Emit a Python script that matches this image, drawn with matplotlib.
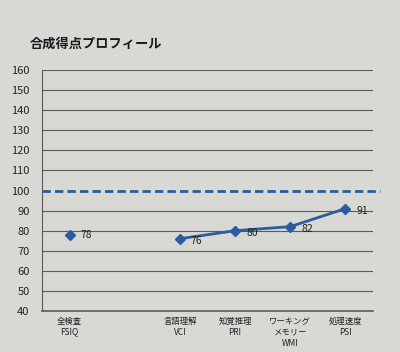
import matplotlib
matplotlib.use("Agg")
import matplotlib.pyplot as plt

plt.rcParams['font.family'] = ['Noto Sans CJK JP', 'DejaVu Sans']

categories = ["全検査\nFSIQ", "", "言語理解\nVCI", "知覚推理\nPRI", "ワーキング\nメモリー\nWMI", "処理速度\nPSI"]
fsiq = 78
index_scores = [76, 80, 82, 91]
y_ticks = list(range(40, 161, 10))

line_color = "#2b5c9e"
paper = "#d8d8d4"

fig = plt.figure(figsize=(4, 3.52), dpi=100, facecolor=paper)
ax = fig.add_axes([0.105, 0.1165, 0.8275, 0.6845])
ax.set_facecolor(paper)

x = [i + 0.5 for i in range(len(categories))]

# grid lines (100 is drawn as a dashed reference line)
for v in y_ticks[1:]:
    if v == 100:
        continue
    ax.axhline(v, color="#5a5a56", lw=0.8, zorder=1)
ax.axhline(100, xmin=0, xmax=1.02, color=line_color, lw=2, ls=(0, (3, 1.5)),
           clip_on=False, zorder=2)

ax.plot(x[0], fsiq, marker="D", ms=5, color=line_color, zorder=3)
ax.text(x[0] + 0.2, fsiq, str(fsiq), fontsize=7.5, va="center", color="#222222")

ax.plot(x[2:], index_scores, marker="D", ms=5, lw=2, color=line_color, zorder=3)
for xi, v in zip(x[2:], index_scores):
    ax.text(xi + 0.2, v - 1, str(v), fontsize=7.5, va="center", color="#222222")

ax.set_xlim(0, len(categories))
ax.set_ylim(40, 160)
ax.set_yticks(y_ticks)
ax.set_xticks(x)
ax.set_xticklabels(categories, fontsize=6, linespacing=1.3, color="#222222")
ax.tick_params(axis="both", length=0, pad=4)
ax.tick_params(axis="y", labelsize=8, labelcolor="#222222", pad=9)

for s in ["top", "right"]:
    ax.spines[s].set_visible(False)
ax.spines["left"].set_color("#5a5a56")
ax.spines["bottom"].set_color("#5a5a56")
ax.spines["bottom"].set_linewidth(1.2)

fig.text(0.075, 0.865, "合成得点プロフィール", fontsize=9.5, fontweight="bold", color="#1a1a1a")

fig.savefig("out.png", dpi=100, facecolor=paper)
